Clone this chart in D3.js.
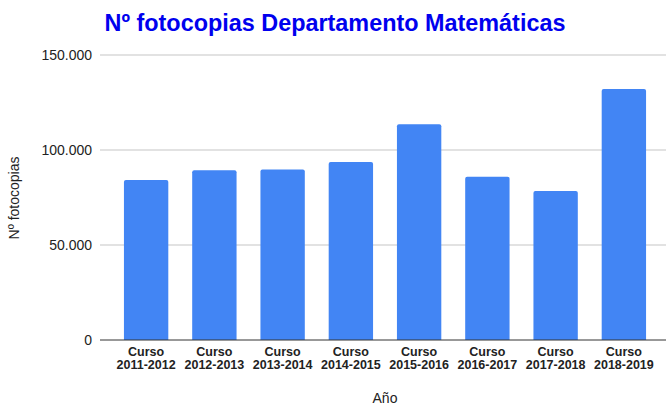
<!DOCTYPE html>
<html>
<head>
<meta charset="utf-8">
<script src="https://cdnjs.cloudflare.com/ajax/libs/d3/7.8.5/d3.min.js"></script>
<style>
  body { margin: 0; background: #fff; }
  svg { display: block; font-family: "Liberation Sans", Arial, sans-serif; }
</style>
</head>
<body>
<div id="chart"></div>
<script>
var cursos = ["2011-2012", "2012-2013", "2013-2014", "2014-2015", "2015-2016", "2016-2017", "2017-2018", "2018-2019"];
var fotocopias = [84200, 89300, 89800, 93700, 113500, 85900, 78400, 132100];
var yTicks = [0, 50000, 100000, 150000];

var width = 666, height = 406;

var svg = d3.select("#chart").append("svg")
  .attr("width", width)
  .attr("height", height);

var xScale = d3.scaleBand()
  .domain(cursos)
  .range([112, 658])
  .paddingInner(0.35)
  .paddingOuter(0.175);

var yScale = d3.scaleLinear()
  .domain([0, 150000])
  .range([340, 55]);

var fmt = function(v) { return d3.format(",")(v).replace(/,/g, "."); };

// gridlines
svg.append("g")
  .selectAll("line")
  .data(yTicks.filter(function(d) { return d > 0; }))
  .enter().append("line")
  .attr("x1", 100).attr("x2", 666)
  .attr("y1", function(d) { return yScale(d); })
  .attr("y2", function(d) { return yScale(d); })
  .attr("stroke", "#d9d9d9")
  .attr("stroke-width", 1.3);

// y tick labels
svg.append("g")
  .selectAll("text")
  .data(yTicks)
  .enter().append("text")
  .attr("x", 92)
  .attr("y", function(d) { return yScale(d); })
  .attr("dy", "0.35em")
  .attr("text-anchor", "end")
  .attr("font-size", 14)
  .attr("fill", "#222")
  .text(fmt);

// bars
svg.append("g")
  .selectAll("path")
  .data(fotocopias)
  .enter().append("path")
  .attr("fill", "#4285f4")
  .attr("d", function(d, i) {
    var x0 = xScale(cursos[i]), w = xScale.bandwidth();
    var y0 = yScale(d), y1 = yScale(0), r = 2;
    return "M" + x0 + "," + y1 +
      "V" + (y0 + r) + "Q" + x0 + "," + y0 + " " + (x0 + r) + "," + y0 +
      "H" + (x0 + w - r) + "Q" + (x0 + w) + "," + y0 + " " + (x0 + w) + "," + (y0 + r) +
      "V" + y1 + "Z";
  });

// baseline
svg.append("line")
  .attr("x1", 100).attr("x2", 666)
  .attr("y1", yScale(0)).attr("y2", yScale(0))
  .attr("stroke", "#333")
  .attr("stroke-width", 1);

// x labels
var xl = svg.append("g")
  .selectAll("text")
  .data(cursos)
  .enter().append("text")
  .attr("text-anchor", "middle")
  .attr("font-size", 12.5)
  .attr("font-weight", "bold")
  .attr("fill", "#222")
  .attr("transform", function(d) { return "translate(" + (xScale(d) + xScale.bandwidth() / 2) + ",0)"; });
xl.append("tspan").attr("x", 0).attr("y", 356).text("Curso");
xl.append("tspan").attr("x", 0).attr("y", 369).text(function(d) { return d; });

// axis titles
svg.append("text")
  .attr("x", 385).attr("y", 403)
  .attr("text-anchor", "middle")
  .attr("font-size", 14)
  .attr("fill", "#222")
  .text("Año");

svg.append("text")
  .attr("transform", "translate(19,198) rotate(-90)")
  .attr("text-anchor", "middle")
  .attr("font-size", 14)
  .attr("fill", "#222")
  .text("Nº fotocopias");

// title
svg.append("text")
  .attr("x", 335).attr("y", 31)
  .attr("text-anchor", "middle")
  .attr("font-size", 23.4)
  .attr("font-weight", "bold")
  .attr("fill", "#0000ee")
  .text("Nº fotocopias Departamento Matemáticas");
</script>
</body>
</html>
